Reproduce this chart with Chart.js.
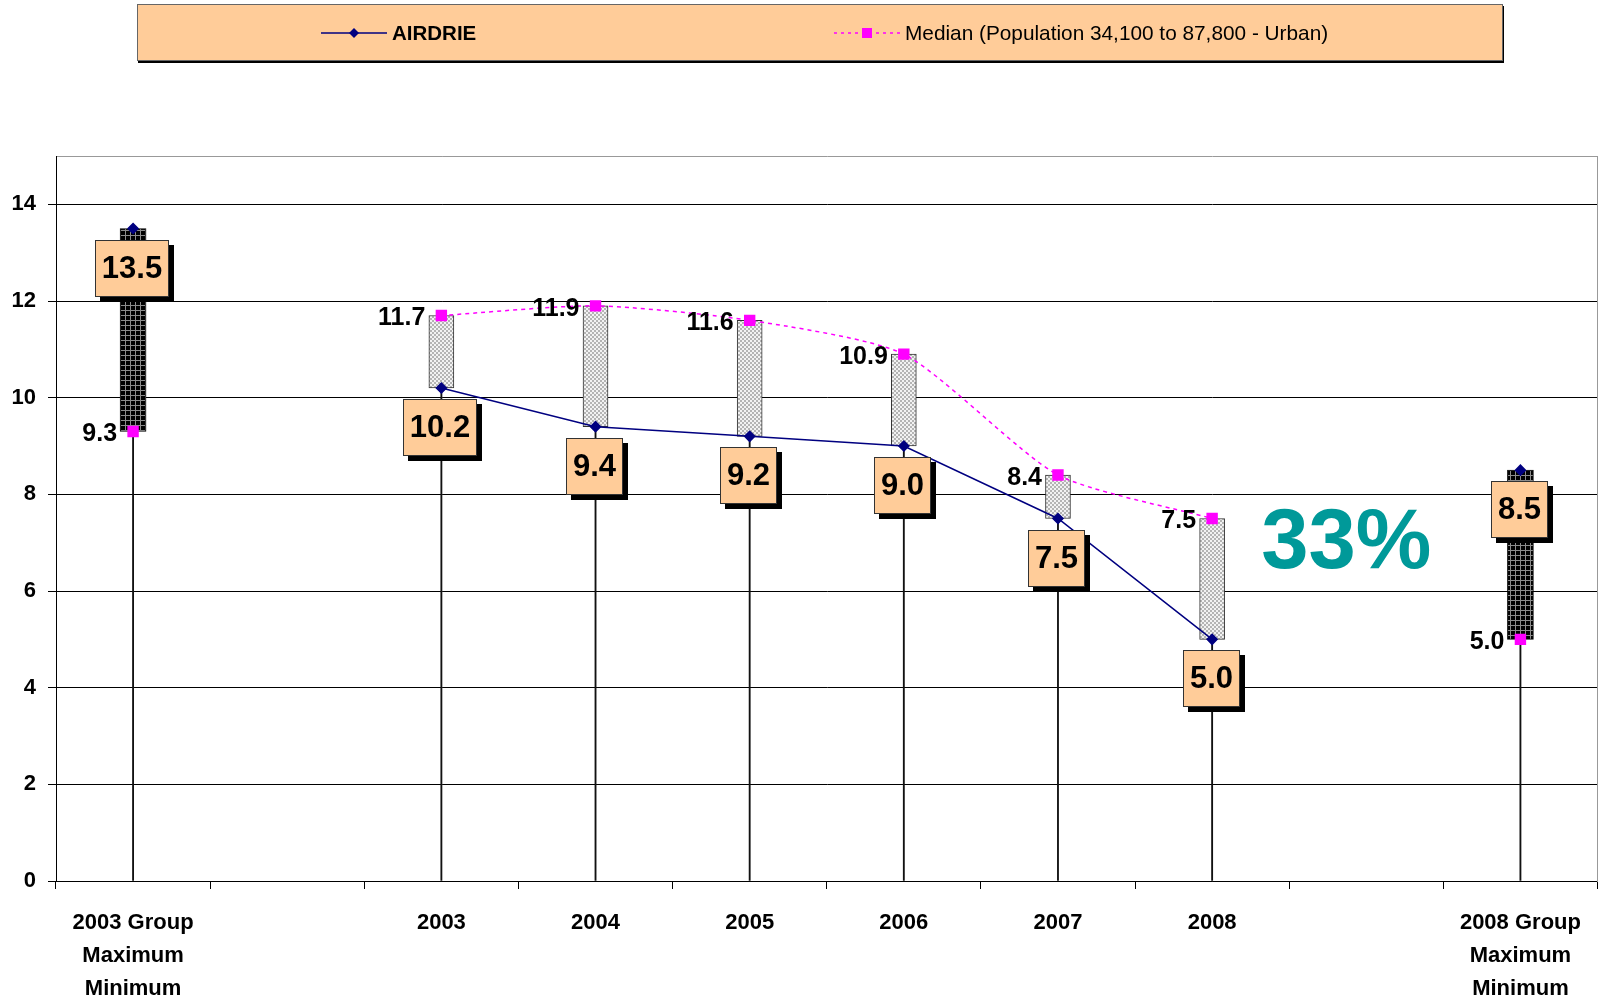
<!DOCTYPE html>
<html>
<head>
<meta charset="utf-8">
<title>AIRDRIE</title>
<script src="https://cdn.jsdelivr.net/npm/chart.js@4.4.1/dist/chart.umd.min.js"></script>
<style>
  html, body { margin: 0; padding: 0; background: #fff; overflow: hidden; }
  #wrap { position: relative; width: 1603px; height: 1000px; overflow: hidden; }
  #chart { position: absolute; left: 0; top: 0; }
  #legend {
    position: absolute; left: 137px; top: 4px; width: 1364px; height: 55px;
    background: #FFCC99; border: 1px solid #666; box-shadow: 1px 2px 0 #000;
    font-family: "Liberation Sans", Arial, sans-serif; font-size: 20px; color: #000;
  }
  .item { position: absolute; top: 16px; height: 24px; line-height: 24px; white-space: nowrap; }
  .item svg { position: absolute; top: 6px; left: 0; }
  .item span { position: absolute; top: 0; }
</style>
</head>
<body>
<div id="wrap">
  <!-- a few px wider than the page: Chart.js keeps ~8px for the edge markers -->
  <canvas id="chart" width="1606" height="1000"></canvas>
  <div id="legend">
    <div class="item" style="left:183px">
      <svg width="66" height="12"><line x1="0" y1="6" x2="66" y2="6" stroke="#000080" stroke-width="1.5"/><polygon points="33,1 38,6 33,11 28,6" fill="#000080"/></svg>
      <span style="left:71px;font-weight:bold;font-size:20.5px">AIRDRIE</span>
    </div>
    <div class="item" style="left:696px">
      <svg width="66" height="12"><line x1="0" y1="6" x2="66" y2="6" stroke="#FF00FF" stroke-width="1.5" stroke-dasharray="3,4"/><rect x="28" y="1" width="10" height="10" fill="#FF00FF"/></svg>
      <span style="left:71px;font-size:20.8px">Median (Population 34,100 to 87,800 - Urban)</span>
    </div>
  </div>
</div>
<script>
// categories (group columns carry three-line labels)
const categories = [
  ['2003 Group', 'Maximum', 'Minimum'], '', '2003', '2004', '2005', '2006', '2007', '2008', '',
  ['2008 Group', 'Maximum', 'Minimum']
];
const airdrie = [13.5, null, 10.2, 9.4, 9.2, 9.0, 7.5, 5.0, null, 8.5];
const median = [9.3, null, 11.7, 11.9, 11.6, 10.9, 8.4, 7.5, null, 5.0];
const yTicks = [0, 2, 4, 6, 8, 10, 12, 14];
const yMax = 15;
const changeLabel = '33%';

const FONT = '"Liberation Sans", Arial, sans-serif';
const isGroup = i => Array.isArray(categories[i]);

// grey checker for year bars, black grid for group bars
function checker() {
  const c = document.createElement('canvas');
  c.width = 4; c.height = 4;
  const g = c.getContext('2d');
  g.fillStyle = '#f2f2f2'; g.fillRect(0, 0, 4, 4);
  g.fillStyle = '#b4b4b4'; g.fillRect(0, 0, 2, 2); g.fillRect(2, 2, 2, 2);
  return g.createPattern(c, 'repeat');
}
function blackGrid() {
  const c = document.createElement('canvas');
  c.width = 5; c.height = 5;
  const g = c.getContext('2d');
  g.fillStyle = '#000'; g.fillRect(0, 0, 5, 5);
  g.fillStyle = '#8c8c8c'; g.fillRect(0, 0, 5, 1); g.fillRect(0, 0, 1, 5);
  return g.createPattern(c, 'repeat');
}

const yearRange = airdrie.map((v, i) =>
  (v == null || isGroup(i)) ? null : [Math.min(v, median[i]), Math.max(v, median[i])]);
const groupRange = airdrie.map((v, i) => isGroup(i) ? [median[i], v] : null);
const dropLine = airdrie.map((v, i) => v == null ? null : [0, Math.min(v, median[i])]);

const labelPlugin = {
  id: 'valueLabels',
  afterDatasetsDraw(chart) {
    const ctx = chart.ctx;
    const aMeta = chart.getDatasetMeta(0);
    const mMeta = chart.getDatasetMeta(1);
    ctx.save();
    ctx.textBaseline = 'middle';

    // median values, left of the squares
    ctx.font = 'bold 25px ' + FONT;
    ctx.fillStyle = '#000';
    ctx.textAlign = 'right';
    mMeta.data.forEach((pt, i) => {
      if (median[i] == null) return;
      ctx.fillText(median[i].toFixed(1), pt.x - 16, pt.y + 3);
    });

    // AIRDRIE values in boxes with shadow
    ctx.font = 'bold 31px ' + FONT;
    ctx.textAlign = 'center';
    aMeta.data.forEach((pt, i) => {
      if (airdrie[i] == null) return;
      const txt = airdrie[i].toFixed(1);
      const w = Math.round(ctx.measureText(txt).width + 14);
      const h = 57;
      const x = Math.round(pt.x - w / 2) - 1;
      const y = Math.round(pt.y + 11);
      ctx.fillStyle = '#000';
      ctx.fillRect(x + 5, y + 5, w, h);
      ctx.fillStyle = '#FFCC99';
      ctx.fillRect(x, y, w, h);
      ctx.strokeStyle = '#333';
      ctx.lineWidth = 1;
      ctx.strokeRect(x + 0.5, y + 0.5, w - 1, h - 1);
      ctx.fillStyle = '#000';
      ctx.fillText(txt, x + w / 2, y + h / 2 + 1);
    });

    // big change label
    const xs = chart.scales.x, ys = chart.scales.y;
    ctx.font = 'bold 85px ' + FONT;
    ctx.fillStyle = '#009999';
    ctx.fillText(changeLabel, xs.getPixelForValue(8) - 20, ys.getPixelForValue(7.05) + 4);
    ctx.restore();
  }
};

new Chart(document.getElementById('chart'), {
  type: 'bar',
  data: {
    labels: categories,
    datasets: [
      {
        type: 'line', label: 'AIRDRIE', data: airdrie, order: 0,
        borderColor: '#000080', backgroundColor: '#000080', borderWidth: 1.5,
        pointStyle: 'rectRot', pointRadius: 5, spanGaps: false, tension: 0
      },
      {
        type: 'line', label: 'Median (Population 34,100 to 87,800 - Urban)', data: median, order: 1,
        borderColor: '#FF00FF', backgroundColor: '#FF00FF', borderWidth: 1.5, borderDash: [4, 4],
        pointStyle: 'rect', pointRadius: 7, spanGaps: false, tension: 0.22
      },
      {
        label: 'range', data: yearRange, order: 2, grouped: false, barThickness: 25,
        backgroundColor: checker(), borderColor: '#333', borderWidth: 1, borderSkipped: false
      },
      {
        label: 'group', data: groupRange, order: 3, grouped: false, barThickness: 26,
        backgroundColor: blackGrid(), borderColor: '#000', borderWidth: 1, borderSkipped: false
      },
      {
        label: 'drop', data: dropLine, order: 4, grouped: false, barThickness: 1.2,
        backgroundColor: '#111', borderWidth: 0
      }
    ]
  },
  options: {
    responsive: false,
    animation: false,
    layout: { padding: { top: 156, right: 0, left: 0, bottom: 0 } },
    plugins: { legend: { display: false }, tooltip: { enabled: false } },
    scales: {
      x: {
        offset: true,
        grid: { offset: true, drawOnChartArea: false, drawTicks: true, tickLength: 8, color: '#000' },
        border: { color: '#000' },
        ticks: {
          autoSkip: false, maxRotation: 0, color: '#000', padding: 17,
          font: { family: FONT, size: 22, weight: 'bold', lineHeight: 1.5 }
        },
        afterFit(s) { s.height = 119; s.paddingLeft = 0; s.paddingRight = 0; }
      },
      y: {
        min: 0, max: yMax,
        afterBuildTicks(s) { s.ticks = yTicks.concat([yMax]).map(v => ({ value: v })); },
        ticks: {
          color: '#000', padding: 12,
          font: { family: FONT, size: 22, weight: 'bold' },
          callback: v => (yTicks.includes(v) ? v : '')
        },
        grid: {
          color: c => (c.tick && c.tick.value === yMax ? '#999' : '#000'),
          tickColor: c => (c.tick && c.tick.value === yMax ? 'rgba(0,0,0,0)' : '#000'),
          tickLength: 8
        },
        border: { color: '#000' },
        afterFit(s) { s.width = 56; s.paddingTop = 0; s.paddingBottom = 0; }
      },
      y2: {
        position: 'right', min: 0, max: yMax,
        ticks: { display: false },
        grid: { drawOnChartArea: false, drawTicks: false },
        border: { color: '#999' },
        afterFit(s) { s.width = 0; s.paddingTop = 0; s.paddingBottom = 0; }
      }
    }
  },
  plugins: [labelPlugin]
});
</script>
</body>
</html>
